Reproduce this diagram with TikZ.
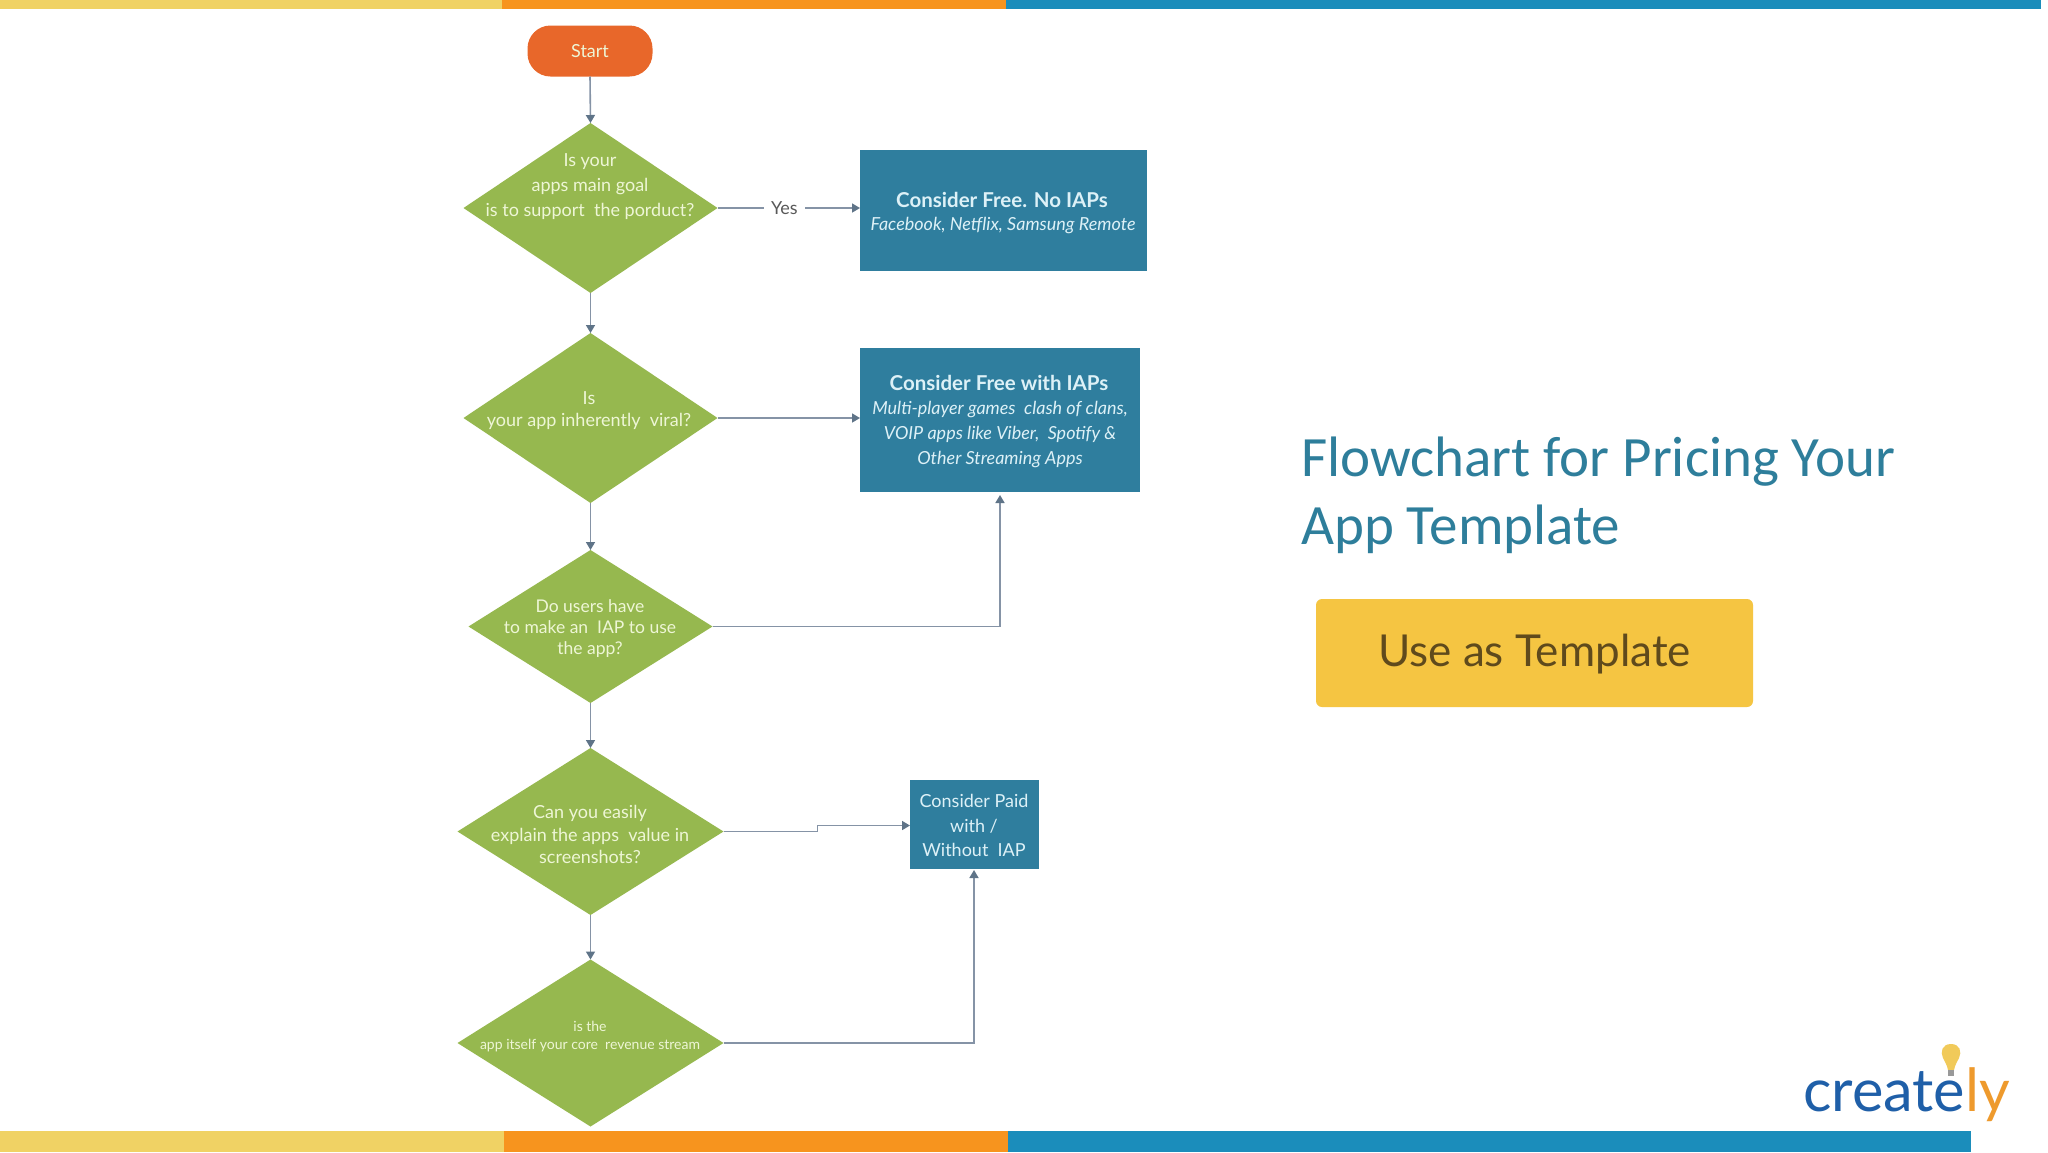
\documentclass[tikz,border=0pt]{standalone}
\usepackage{fontspec}
\setmainfont{Lato}
\newfontfamily\carlito{Carlito}
\usetikzlibrary{shapes.geometric,arrows.meta}
\definecolor{flowgreen}{HTML}{96B84F}
\definecolor{boxblue}{HTML}{2F7E9E}
\definecolor{startorange}{HTML}{E8672A}
\definecolor{titleblue}{HTML}{2E7E9B}
\definecolor{baryellow}{HTML}{F0D264}
\definecolor{barorange}{HTML}{F7941E}
\definecolor{barblue}{HTML}{1B8DBB}
\definecolor{linegrey}{HTML}{8593A6}
\definecolor{tipgrey}{HTML}{5F7488}
\definecolor{paletext}{HTML}{EEF6D6}
\definecolor{boxtext}{HTML}{DDF1F7}
\definecolor{btnyellow}{HTML}{F5C542}
\definecolor{btntext}{HTML}{5F4A1C}
\definecolor{logoblue}{HTML}{1F5FA8}
\definecolor{logoorange}{HTML}{EE9A2D}
\newcommand{\fs}[1]{\fontsize{#1}{#1}\selectfont}
\tikzset{
  x=1pt,y=-1pt,
  dia/.style={diamond,fill=flowgreen,inner sep=0pt,outer sep=0pt,anchor=center},
  lbl/.style={text=paletext,align=center,inner sep=0pt,anchor=center},
  bx/.style={rectangle,fill=boxblue,inner sep=0pt,outer sep=0pt},
  bxt/.style={text=boxtext,align=center,inner sep=0pt,anchor=center},
  conn/.style={draw=linegrey,line width=1.6pt,-{Triangle[length=8pt,width=9pt,color=tipgrey]}},
  bar/.style={rectangle,inner sep=0pt,outer sep=0pt,anchor=north west}
}
\begin{document}
\begin{tikzpicture}
\useasboundingbox (0,0) rectangle (2048,1152);
\fill[white] (0,0) rectangle (2048,1152);
% bars
\fill[baryellow] (0,0) rectangle (502,9);
\fill[barorange] (502,0) rectangle (1006,9);
\fill[barblue] (1006,0) rectangle (2041,9);
\fill[baryellow] (0,1131) rectangle (504,1152);
\fill[barorange] (504,1131) rectangle (1008,1152);
\fill[barblue] (1008,1131) rectangle (1971,1152);
% flow shapes
\node[rectangle,rounded corners=23pt,fill=startorange,minimum width=125pt,minimum height=51pt,inner sep=0pt,outer sep=0pt,text=paletext] (start) at (590,51) {\fs{18}Start};
\node[dia,minimum width=254pt,minimum height=170pt,aspect=1.494] (d1) at (590.5,208) {};
\node[dia,minimum width=254pt,minimum height=170pt,aspect=1.494] (d2) at (590.5,418) {};
\node[dia,minimum width=244pt,minimum height=153pt,aspect=1.595] (d3) at (590.5,626.5) {};
\node[dia,minimum width=266pt,minimum height=167pt,aspect=1.593] (d4) at (590.5,831.5) {};
\node[dia,minimum width=266pt,minimum height=167pt,aspect=1.593] (d5) at (590.5,1043) {};
\node[bx,minimum width=286.5pt,minimum height=121pt] (b1) at (1003.25,210.5) {};
\node[bx,minimum width=280pt,minimum height=144pt] (b2) at (1000,420) {};
\node[bx,minimum width=128.5pt,minimum height=88.5pt] (b3) at (974.25,824.5) {};
% labels
\node[lbl] (t1) at (590,186.5) {\fs{18}Is your\\[7.5pt]\fs{18}apps main goal\\[7.5pt]\fs{18}is to support\ \ the porduct?};
\node[lbl] (t2) at (589,411) {\fs{18}Is\\[7.5pt]\fs{18}your app inherently\ \ viral?};
\node[lbl] (t3) at (590,628.5) {\fs{17.5}Do users have\\[7pt]\fs{17.5}to make an\ \ IAP to use\\[7pt]\fs{17.5}the app?};
\node[lbl] (t4) at (590,834.5) {\fs{18}Can you easily\\[5pt]\fs{18}explain the apps\ \ value in\\[5pt]\fs{18}screenshots?};
\node[lbl] (t5) at (590,1036.5) {\fs{14}is the\\[6pt]\fs{14}app itself your core\ \ revenue stream};
\node[bxt] (b1a) at (1002,200) {\fs{20.5}\bfseries Consider Free. No IAPs};
\node[bxt] (b1b) at (1003,226) {\fs{18}\itshape Facebook, Netflix, Samsung Remote};
\node[bxt] (b2a) at (999,383) {\fs{20.5}\bfseries Consider Free with IAPs};
\node[bxt] (b2b) at (1000,410) {\fs{18}\itshape Multi-player games\ \ clash of clans,};
\node[bxt] (b2c) at (1000,434) {\fs{18}\itshape VOIP apps like Viber,\ \ Spotify \&};
\node[bxt] (b2d) at (1000,459) {\fs{18}\itshape Other Streaming Apps};
\node[bxt] (b3a) at (974,801) {\fs{18}Consider Paid};
\node[bxt] (b3b) at (974,826) {\fs{18}with /};
\node[bxt] (b3c) at (974,850) {\fs{18}Without\ \ IAP};
% connectors
\draw[conn] (start.south) -- (d1.north);
\draw[conn] (d1.south) -- (d2.north);
\draw[conn] (d2.south) -- (d3.north);
\draw[conn] (d3.south) -- (d4.north);
\draw[conn] (d4.south) -- (d5.north);
\draw[conn] (d1.east) -- node[pos=0.47,fill=white,inner sep=0pt,minimum width=41pt,minimum height=22pt,text=black!65] (yes) {\fs{18}Yes} (d1.east -| b1.west);
\draw[conn] (d2.east) -- (d2.east -| b2.west);
\coordinate (b2in) at (1000,495);
\draw[conn] (d3.east) -| (b2in);
\coordinate (m4b) at (817.5,825.5);
\draw[conn] (d4.east) -- (d4.east -| m4b) -- (m4b) -- (m4b -| b3.west);
\coordinate (b3in) at (974,870);
\draw[conn] (d5.east) -| (b3in);
% title and button
\node[anchor=base west,inner sep=0pt,text=titleblue] (title1) at (1301,476) {\carlito\fs{57}Flowchart for Pricing Your};
\node[anchor=base west,inner sep=0pt,text=titleblue] (title2) at (1301,544.5) {\carlito\fs{57}App Template};
\node[rectangle,rounded corners=6pt,fill=btnyellow,minimum width=437pt,minimum height=108pt,inner sep=0pt] (btn) at (1534.5,653) {};
\node[anchor=base,inner sep=0pt,text=btntext] (btnt) at (1534.5,666) {\fs{44}Use as Template};
% logo
\fill[baryellow!90!orange] (1951,1044) .. controls (1942,1044) and (1940,1052) .. (1943,1058) .. controls (1945,1062) and (1947,1065) .. (1948,1070) -- (1954,1070) .. controls (1955,1065) and (1957,1062) .. (1959,1058) .. controls (1962,1052) and (1960,1044) .. (1951,1044) -- cycle;
\fill[black!40] (1948,1070) rectangle (1954,1076);
\node[anchor=base west,inner sep=0pt] (logo) at (1803,1111) {\fs{59.5}\color{logoblue}create\color{logoorange}ly};
\end{tikzpicture}
\end{document}
